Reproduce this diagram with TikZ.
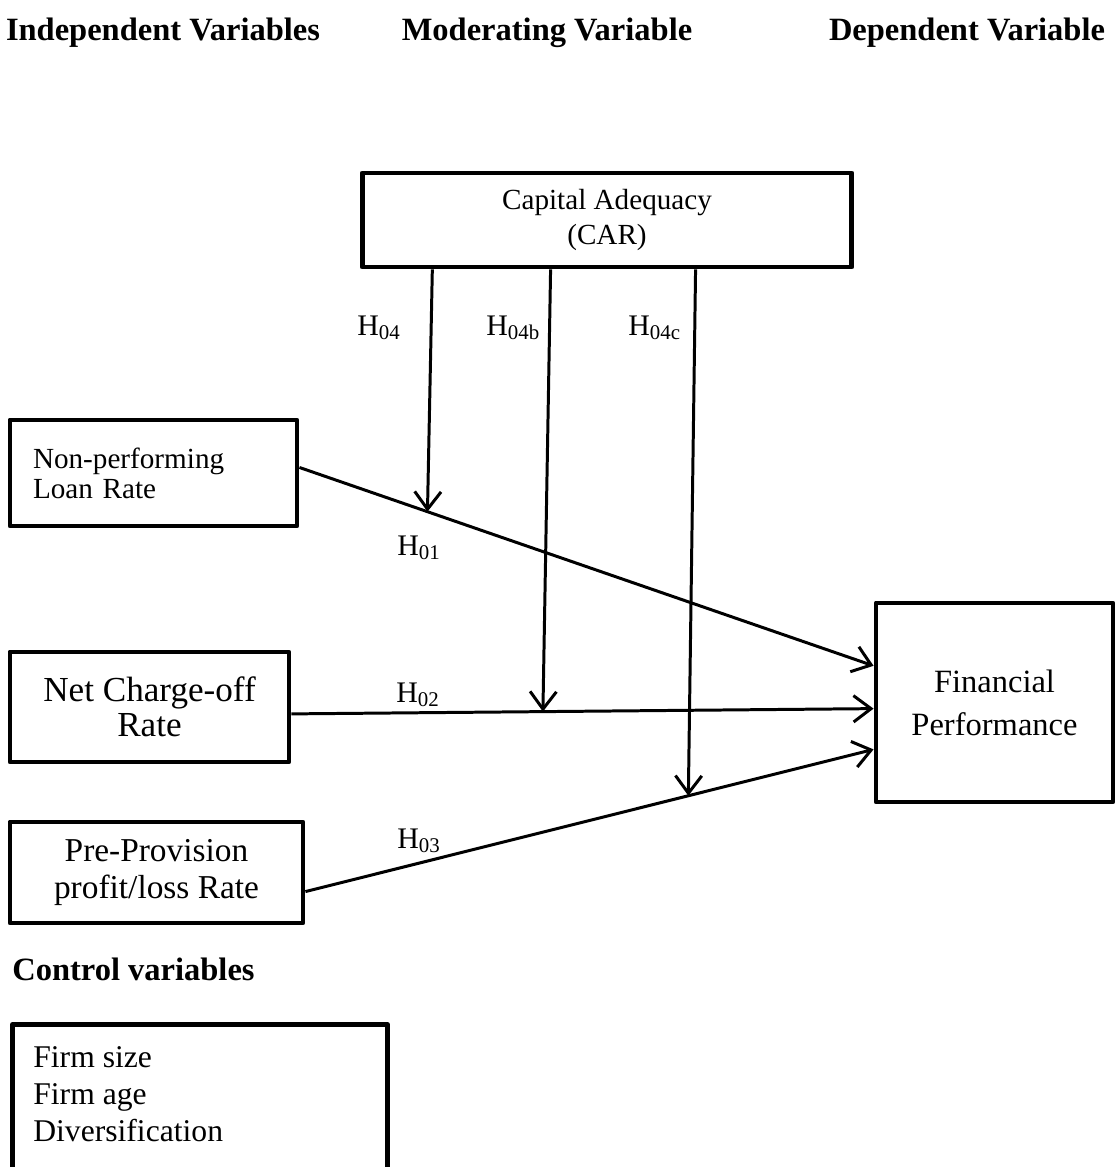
\documentclass[tikz,border=0pt]{standalone}
\usepackage{fontspec}
\setmainfont{Liberation Serif}
\usetikzlibrary{arrows.meta,calc}
\newcommand{\hyp}[1]{H\textsubscript{#1}}
\begin{document}
\begin{tikzpicture}[x=0.02cm,y=-0.02cm,
bx/.style={draw,line width=2.8pt,line join=round,inner sep=0pt},
hd/.style={font=\fontsize{18.5}{22}\bfseries,anchor=base,inner sep=0pt},
hl/.style={font=\fontsize{17}{20}\selectfont,anchor=base west,inner sep=0pt},
ln/.style={line width=1.7pt,-{Straight Barb[length=10pt,width=15pt,line width=1.7pt]}}]
\useasboundingbox (0,0) rectangle (1115,1167);
\clip (0,0) rectangle (1115,1167);
%\draw[help lines] (0,0) grid[step=1cm] (1115,1167);
\node[hd] (indep) at (163,40) {Independent Variables};
\node[hd] (moder) at (547,40) {Moderating Variable};
\node[hd] (dep) at (967,40) {Dependent Variable};

\node[bx,minimum width=9.8cm,minimum height=1.88cm,align=center,font=\fontsize{16.6}{20}\selectfont] (car) at (607,220) {Capital Adequacy\\(CAR)};
\node[bx,minimum width=5.74cm,minimum height=2.12cm,text width=4.82cm,align=left,font=\fontsize{16.6}{17}\selectfont] (npl) at (153.5,473) {Non-performing\\Loan Rate};
\node[bx,minimum width=5.58cm,minimum height=2.2cm,align=center,font=\fontsize{20}{20}\selectfont] (nco) at (149.5,707) {Net Charge-off\\Rate};
\node[bx,minimum width=5.86cm,minimum height=2.02cm,align=center,font=\fontsize{19}{21}\selectfont] (ppr) at (156.5,872.5) {Pre-Provision\\profit/loss Rate};
\node[bx,minimum width=4.74cm,minimum height=3.98cm,align=center,font=\fontsize{18.5}{24.5}\selectfont] (fp) at (994.5,702.5) {Financial\\Performance};

\node[hd,anchor=base west] (ctrlhd) at (12,980) {Control variables};
\node[bx,anchor=north west,minimum width=7.5cm,minimum height=4cm] (ctrl) at (10,1022) {};
\node[anchor=north west,align=left,inner sep=0pt,font=\fontsize{18}{21}\selectfont] (ctrltxt) at ([shift={(23,24)}]ctrl.north west) {Firm size\\Firm age\\Diversification};

\coordinate (n1) at ($(npl.north east)!0.45!(npl.south east)$);
\coordinate (n2) at ($(nco.north east)!0.56!(nco.south east)$);
\coordinate (n3) at ($(ppr.north east)!0.68!(ppr.south east)$);
\coordinate (fp1) at ($(fp.north west)!0.32!(fp.south west)$);
\coordinate (fp2) at ($(fp.north west)!0.53!(fp.south west)$);
\coordinate (fp3) at ($(fp.north west)!0.73!(fp.south west)$);
\draw[ln] (n1) -- (fp1);
\draw[ln] (n2) -- (fp2);
\draw[ln] (n3) -- (fp3);

\draw[ln] ($(car.south west)!0.147!(car.south east)$) -- ($(n1)!0.223!(fp1)$);
\draw[ln] ($(car.south west)!0.386!(car.south east)$) -- ($(n2)!0.432!(fp2)$);
\draw[ln] ($(car.south west)!0.679!(car.south east)$) -- ($(n3)!0.674!(fp3)$);

\node[hl] (h04) at (357,335) {\hyp{04}};
\node[hl] (h04b) at (486,335) {\hyp{04b}};
\node[hl] (h04c) at (628,335) {\hyp{04c}};
\node[hl] (h01) at (397,555) {\hyp{01}};
\node[hl] (h02) at (396,702) {\hyp{02}};
\node[hl] (h03) at (397,848) {\hyp{03}};
\end{tikzpicture}
\end{document}
